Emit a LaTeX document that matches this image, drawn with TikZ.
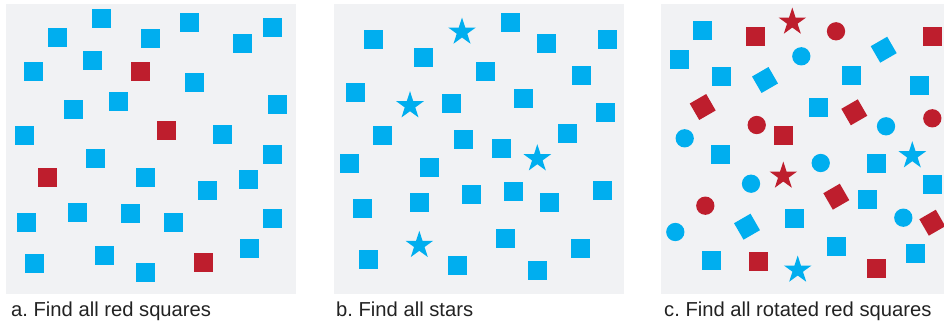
\documentclass[tikz,border=0pt]{standalone}
\usepackage{fontspec}
\setmainfont{Liberation Sans}
\usetikzlibrary{shapes.geometric}
\definecolor{cblue}{RGB}{0,174,239}
\definecolor{cred}{RGB}{190,30,45}
\definecolor{cbg}{RGB}{241,242,244}
\definecolor{ctext}{RGB}{34,34,34}
\tikzset{
  sq/.style={rectangle, fill=#1, minimum size=19pt, inner sep=0pt, draw=none},
  rsq/.style={rectangle, fill=#1, minimum size=19pt, inner sep=0pt, draw=none, rotate=30},
  dot/.style={circle, fill=#1, minimum size=18.3pt, inner sep=0pt, draw=none},
  starshape/.style={star, star points=5, star point ratio=2.618, fill=#1, minimum size=29pt, inner sep=0pt, draw=none},
  panel/.style={fill=cbg},
  caption/.style={anchor=base west, font=\fontsize{20.2}{24}\selectfont, text=ctext, inner sep=0pt}
}
\frenchspacing
\begin{document}
\frenchspacing
\begin{tikzpicture}[x=1pt,y=-1pt]
\useasboundingbox (0,0) rectangle (944,324);
% panels
\fill[panel] (6,4) rectangle (296,294);
\fill[panel] (334,4) rectangle (624,294);
\fill[panel] (661,4) rectangle (951,294);
% panel a
\foreach \x/\y [count=\i] in {101.5/18.5, 189.5/22.5, 272.5/27.5, 57.5/37.5, 150.5/38.5, 242.5/43.5,
  92.5/60.5, 33.5/71.5, 194.5/82.5, 277.5/104.5, 118.5/101.5, 73.5/109.5, 24.5/135.5,
  222.5/134.5, 272.5/154.5, 95.5/158.5, 145.5/177.5, 248.5/179.5, 207.5/190.5,
  77.5/212.5, 130.5/213.5, 26.5/222.5, 173.5/222.5, 272.5/218.5, 249.5/248.5,
  104.5/255.5, 34.5/263.5, 145.5/272.5}
  \node[sq=cblue] (ab\i) at (\x,\y) {};
\foreach \x/\y [count=\i] in {140.5/71.5, 166.5/130.5, 47.5/177.5, 203.5/262.5}
  \node[sq=cred] (ar\i) at (\x,\y) {};
% panel b
\foreach \x/\y [count=\i] in {373.5/39.5, 510.5/22.5, 546.5/43.5, 607.5/39.5, 423.5/57.5,
  485.5/71.5, 581.5/75.5, 355.5/92.5, 451.5/103.5, 523.5/98.5, 605.5/112.5,
  382.5/135.5, 463.5/139.5, 501.5/148.5, 567.5/133.5, 349.5/163.5, 429.5/167.5,
  362.5/208.5, 419.5/202.5, 471.5/194.5, 513.5/191.5, 549.5/202.5, 602.5/190.5,
  505.5/238.5, 580.5/248.5, 368.5/259.5, 457.5/265.5, 537.5/270.5}
  \node[sq=cblue] (bb\i) at (\x,\y) {};
\foreach \x/\y [count=\i] in {462/32, 410/105.7, 537.3/158.7, 419.3/245.3}
  \node[starshape=cblue] (bs\i) at (\x,\y) {};
% panel c
\foreach \x/\y [count=\i] in {702.5/30.5, 679.5/59.5, 721.5/76.5, 851.5/75.5, 919.5/85.5,
  818.5/107.5, 720.5/154.5, 876.5/163.5, 932.5/184.5, 867.5/199.5, 794.5/218.5,
  836.5/246.5, 915.5/253.5, 711.5/260.5}
  \node[sq=cblue] (cb\i) at (\x,\y) {};
\foreach \x/\y [count=\i] in {755.5/36.5, 932.5/36.5, 783.5/135.5, 758.5/261.5, 876.5/268.5}
  \node[sq=cred] (cr\i) at (\x,\y) {};
\foreach \x/\y [count=\i] in {883.7/49.7, 765/80, 747/226.7}
  \node[rsq=cblue] (cbr\i) at (\x,\y) {};
\foreach \x/\y [count=\i] in {702.7/107, 854.3/112.3, 836.3/196.7, 932.3/222.7}
  \node[rsq=cred] (crr\i) at (\x,\y) {};
\foreach \x/\y [count=\i] in {801.3/56.3, 886/126.3, 684.7/138.3, 820.7/163, 751/183.7,
  903.3/217.7, 675.3/232}
  \node[dot=cblue] (cbc\i) at (\x,\y) {};
\foreach \x/\y [count=\i] in {836/31.3, 756.7/125, 932.3/118.3, 705.3/205.7}
  \node[dot=cred] (crc\i) at (\x,\y) {};
\foreach \x/\y [count=\i] in {792.3/22, 783.3/176}
  \node[starshape=cred] (crs\i) at (\x,\y) {};
\foreach \x/\y [count=\i] in {912.3/155.7, 797.7/270}
  \node[starshape=cblue] (cbs\i) at (\x,\y) {};
% captions
\node[caption] (capa) at (11,316.5) {a. Find all red squares};
\node[caption] (capb) at (336,316.5) {b. Find all stars};
\node[caption] (capc) at (664,316.5) {c. Find all rotated red squares};
\end{tikzpicture}
\end{document}
